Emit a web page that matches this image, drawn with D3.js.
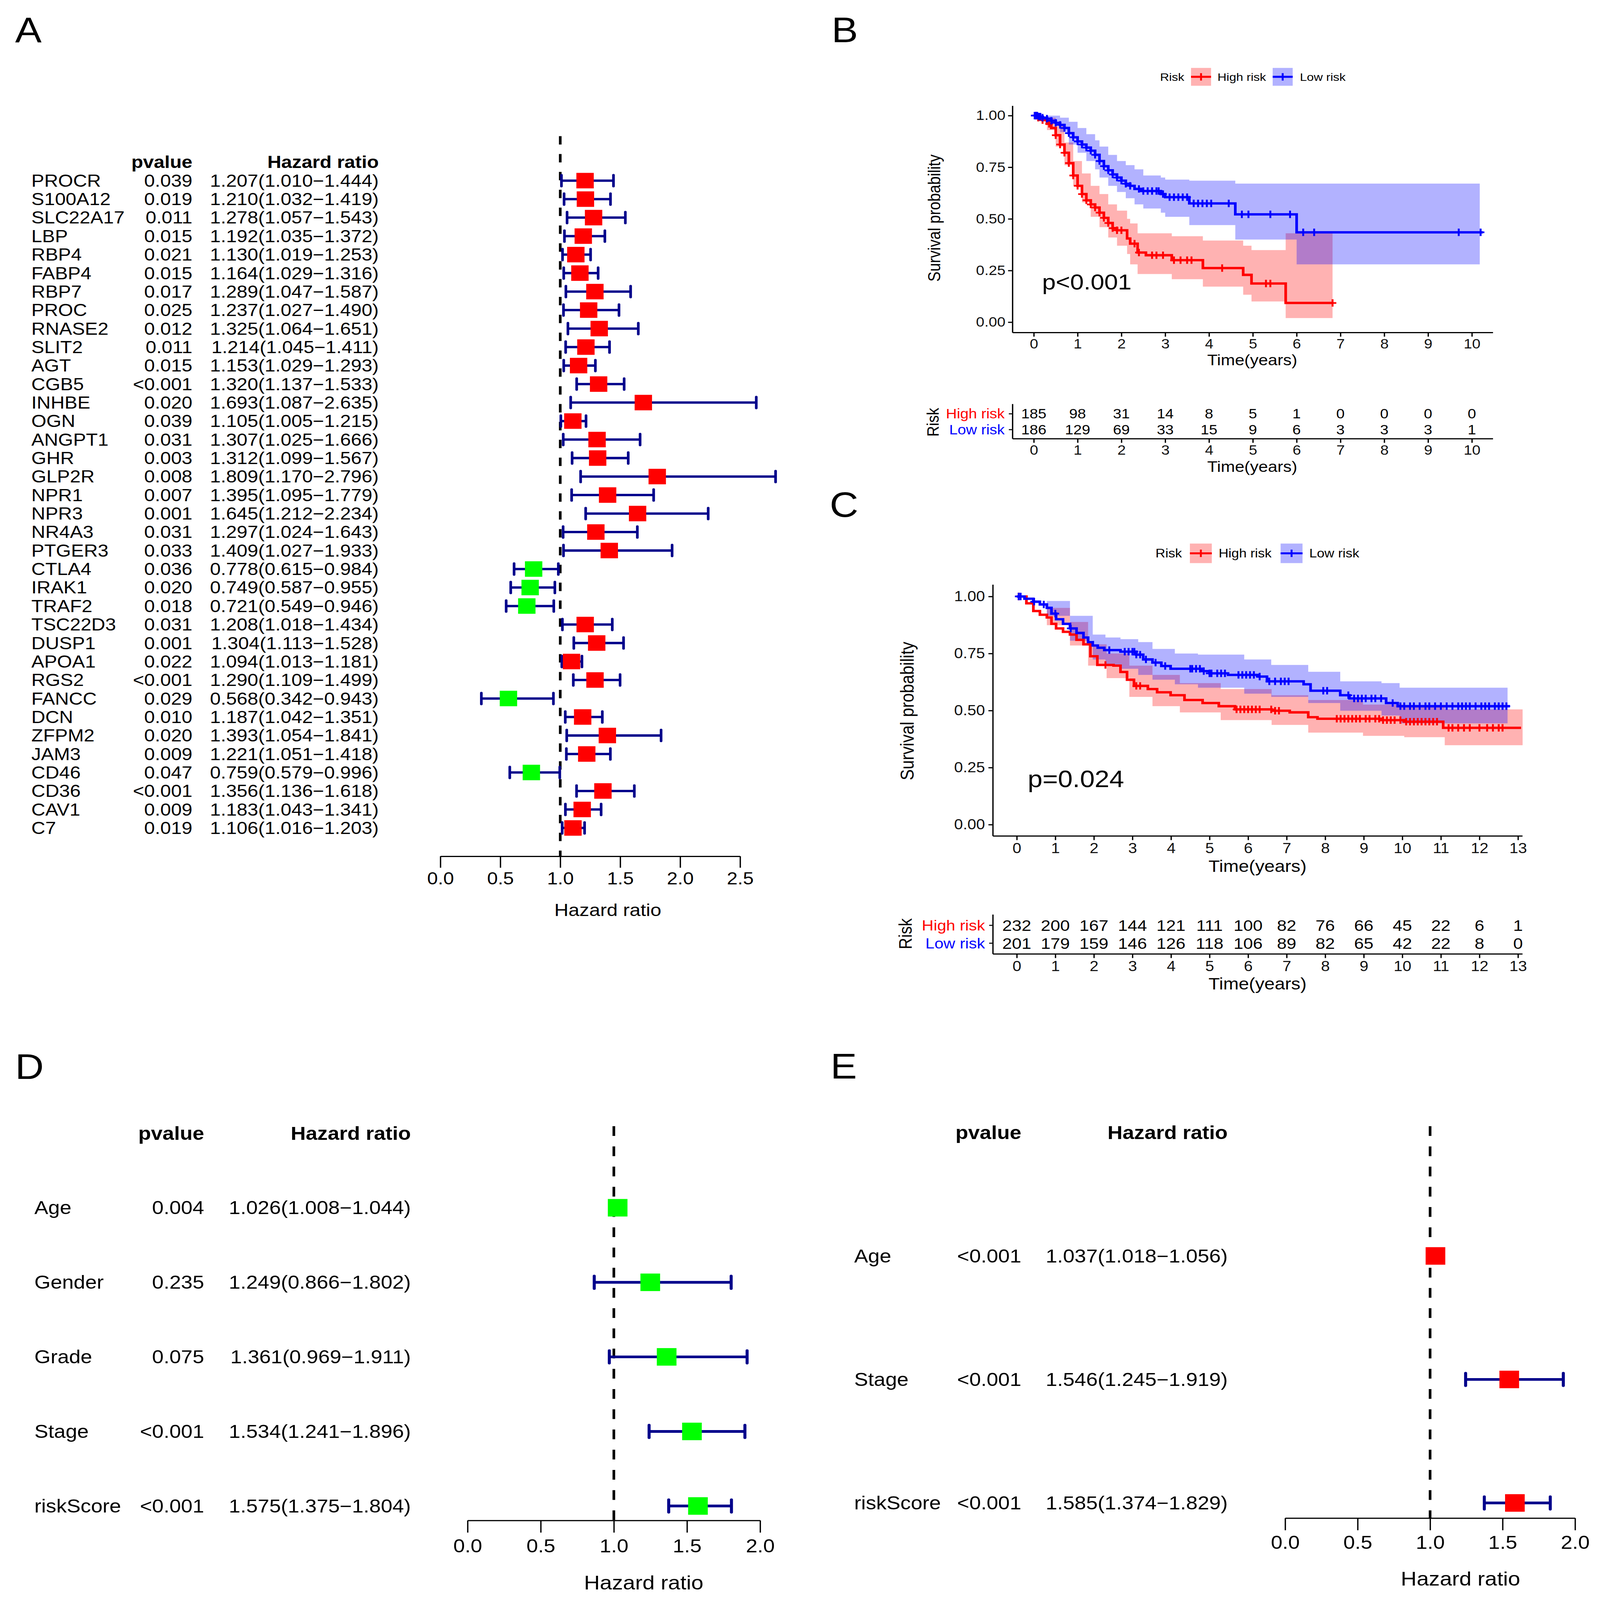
<!DOCTYPE html>
<html>
<head>
<meta charset="utf-8">
<script src="https://cdn.jsdelivr.net/npm/d3@7"></script>
<style>
html, body { margin: 0; padding: 0; width: 100%; height: 100%; overflow: hidden; background: #fff; }
#chart svg { display: block; }
text { font-family: "Liberation Sans", Arial, Helvetica, sans-serif; }
</style>
</head>
<body>
<div id="chart"></div>
<script>
// ---------- panel A : univariate cox of genes ----------
var geneNames = ["PROCR","S100A12","SLC22A17","LBP","RBP4","FABP4","RBP7","PROC","RNASE2","SLIT2",
  "AGT","CGB5","INHBE","OGN","ANGPT1","GHR","GLP2R","NPR1","NPR3","NR4A3",
  "PTGER3","CTLA4","IRAK1","TRAF2","TSC22D3","DUSP1","APOA1","RGS2","FANCC","DCN",
  "ZFPM2","JAM3","CD46","CD36","CAV1","C7"];
var genePvalues = ["0.039","0.019","0.011","0.015","0.021","0.015","0.017","0.025","0.012","0.011",
  "0.015","<0.001","0.020","0.039","0.031","0.003","0.008","0.007","0.001","0.031",
  "0.033","0.036","0.020","0.018","0.031","0.001","0.022","<0.001","0.029","0.010",
  "0.020","0.009","0.047","<0.001","0.009","0.019"];
var geneHR = [1.207,1.210,1.278,1.192,1.130,1.164,1.289,1.237,1.325,1.214,
  1.153,1.320,1.693,1.105,1.307,1.312,1.809,1.395,1.645,1.297,
  1.409,0.778,0.749,0.721,1.208,1.304,1.094,1.290,0.568,1.187,
  1.393,1.221,0.759,1.356,1.183,1.106];
var geneLow = [1.010,1.032,1.057,1.035,1.019,1.029,1.047,1.027,1.064,1.045,
  1.029,1.137,1.087,1.005,1.025,1.099,1.170,1.095,1.212,1.024,
  1.027,0.615,0.587,0.549,1.018,1.113,1.013,1.109,0.342,1.042,
  1.054,1.051,0.579,1.136,1.043,1.016];
var geneHigh = [1.444,1.419,1.543,1.372,1.253,1.316,1.587,1.490,1.651,1.411,
  1.293,1.533,2.635,1.215,1.666,1.567,2.796,1.779,2.234,1.643,
  1.933,0.984,0.955,0.946,1.434,1.528,1.181,1.499,0.943,1.351,
  1.841,1.418,0.996,1.618,1.341,1.203];
var hrTicksA = [0, 0.5, 1, 1.5, 2, 2.5];

// ---------- panel D : univariate clinical ----------
var clinNamesD = ["Age","Gender","Grade","Stage","riskScore"];
var clinPD = ["0.004","0.235","0.075","<0.001","<0.001"];
var clinHRD = [1.026,1.249,1.361,1.534,1.575];
var clinLowD = [1.008,0.866,0.969,1.241,1.375];
var clinHighD = [1.044,1.802,1.911,1.896,1.804];

// ---------- panel E : multivariate clinical ----------
var clinNamesE = ["Age","Stage","riskScore"];
var clinPE = ["<0.001","<0.001","<0.001"];
var clinHRE = [1.037,1.546,1.585];
var clinLowE = [1.018,1.245,1.374];
var clinHighE = [1.056,1.919,1.829];
var hrTicksDE = [0, 0.5, 1, 1.5, 2];

// ---------- panel B : KM training set ----------
var timeTicksB = [0,1,2,3,4,5,6,7,8,9,10];
var riskHighB = [185,98,31,14,8,5,1,0,0,0,0];
var riskLowB = [186,129,69,33,15,9,6,3,3,3,1];
// [time, survival]
var highStepsB = [[0,1],[0.1,0.99],[0.2,0.978],[0.3,0.96],[0.4,0.94],[0.5,0.905],[0.6,0.86],[0.7,0.82],
  [0.8,0.77],[0.9,0.71],[1.0,0.66],[1.1,0.62],[1.2,0.59],[1.3,0.57],[1.4,0.555],[1.5,0.53],[1.6,0.505],
  [1.7,0.48],[1.8,0.455],[1.9,0.445],[2.13,0.405],[2.2,0.38],[2.37,0.337],[2.56,0.324],[3.15,0.30],
  [3.86,0.262],[4.78,0.229],[4.97,0.187],[5.75,0.093],[6.82,0.093]];
var lowStepsB = [[0,1],[0.1,0.995],[0.2,0.99],[0.3,0.985],[0.4,0.975],[0.5,0.965],[0.6,0.955],[0.7,0.94],
  [0.8,0.915],[0.9,0.895],[1.0,0.875],[1.1,0.86],[1.2,0.845],[1.3,0.83],[1.4,0.81],[1.5,0.78],[1.6,0.755],
  [1.7,0.735],[1.8,0.715],[1.9,0.70],[2.0,0.685],[2.1,0.67],[2.2,0.66],[2.3,0.645],[2.45,0.635],[2.9,0.62],
  [3.0,0.605],[3.55,0.575],[4.6,0.522],[6.0,0.435],[10.25,0.435]];
// [time, lower, upper]
var highBandB = [[0,1,1],[0.3,0.93,0.99],[0.5,0.85,0.95],[0.7,0.76,0.87],[0.9,0.66,0.78],[1.1,0.58,0.72],
  [1.3,0.51,0.66],[1.5,0.46,0.62],[1.7,0.41,0.57],[1.9,0.37,0.54],[2.13,0.33,0.50],[2.2,0.28,0.478],
  [2.37,0.233,0.43],[3.15,0.208,0.416],[3.86,0.172,0.395],[4.78,0.133,0.37],[4.97,0.10,0.349],
  [5.75,0.02,0.43],[6.82,0.02,0.43]];
var lowBandB = [[0,1,1],[0.3,0.97,1],[0.6,0.92,0.99],[0.8,0.86,0.97],[1.0,0.82,0.94],[1.2,0.78,0.91],
  [1.4,0.74,0.88],[1.5,0.70,0.85],[1.7,0.66,0.81],[1.9,0.63,0.78],[2.1,0.60,0.76],[2.3,0.57,0.74],
  [2.5,0.55,0.71],[2.9,0.53,0.70],[3.0,0.51,0.69],[3.55,0.47,0.685],[4.6,0.40,0.671],[6.0,0.28,0.671],
  [10.18,0.28,0.671]];
var highCensorB = [0.05,0.1,0.2,0.35,0.5,0.6,0.7,0.8,0.9,1.0,1.1,1.2,1.3,1.4,1.5,1.6,1.7,1.8,1.9,2.0,
  2.3,2.4,2.7,2.8,2.95,3.2,3.35,3.5,3.6,4.3,5.3,5.4,6.82];
var lowCensorB = [0.02,0.05,0.08,0.12,0.15,0.2,0.3,0.4,0.5,0.6,0.7,0.8,0.9,1.0,1.1,1.2,1.3,1.4,1.5,1.6,
  1.7,1.8,1.9,2.0,2.1,2.2,2.4,2.5,2.6,2.7,2.8,2.85,2.95,3.1,3.2,3.3,3.4,3.5,3.65,3.75,3.85,3.95,4.05,
  4.45,4.75,4.9,5.4,5.85,6.15,6.4,9.7,10.2];

// ---------- panel C : KM validation set ----------
var timeTicksC = [0,1,2,3,4,5,6,7,8,9,10,11,12,13];
var riskHighC = [232,200,167,144,121,111,100,82,76,66,45,22,6,1];
var riskLowC = [201,179,159,146,126,118,106,89,82,65,42,22,8,0];
var highStepsC = [[0,1],[0.25,0.97],[0.43,0.936],[0.6,0.92],[0.78,0.908],[0.9,0.88],[1.02,0.86],[1.2,0.845],
  [1.38,0.833],[1.55,0.81],[1.73,0.79],[1.91,0.738],[2.09,0.70],[2.51,0.697],[2.69,0.669],[2.86,0.635],
  [3.04,0.608],[3.4,0.594],[3.64,0.58],[3.99,0.567],[4.35,0.546],[4.82,0.533],[5.24,0.519],[5.66,0.505],
  [6.61,0.499],[7.08,0.492],[7.56,0.471],[7.8,0.464],[9.46,0.458],[10.05,0.451],[11.06,0.424],[13.08,0.424]];
var lowStepsC = [[0,1],[0.2,0.99],[0.43,0.977],[0.6,0.965],[0.78,0.95],[0.9,0.925],[1.02,0.90],[1.2,0.88],
  [1.38,0.86],[1.55,0.84],[1.73,0.82],[1.85,0.80],[1.97,0.785],[2.1,0.775],[2.27,0.765],[2.69,0.758],
  [3.1,0.745],[3.28,0.724],[3.52,0.71],[3.75,0.695],[3.99,0.683],[4.8,0.673],[5.0,0.663],[5.48,0.656],
  [6.25,0.649],[6.49,0.628],[7.44,0.615],[7.62,0.587],[8.39,0.567],[8.63,0.553],[9.58,0.533],[9.88,0.519],
  [12.79,0.519]];
var highBandC = [[0,1,1],[0.78,0.874,0.95],[1.38,0.785,0.888],[1.85,0.697,0.79],[2.33,0.642,0.75],
  [2.92,0.56,0.697],[3.52,0.519,0.656],[4.23,0.492,0.62],[5.29,0.458,0.594],[6.61,0.437,0.567],
  [7.56,0.403,0.546],[8.98,0.389,0.526],[10.05,0.383,0.519],[11.1,0.348,0.505],[13.12,0.348,0.505]];
var lowBandC = [[0,1,1],[0.78,0.915,0.98],[1.38,0.806,0.915],[1.97,0.724,0.833],[2.3,0.70,0.82],
  [2.69,0.683,0.813],[3.15,0.656,0.80],[3.52,0.635,0.77],[4.1,0.615,0.75],[4.7,0.60,0.745],
  [5.9,0.574,0.724],[6.6,0.56,0.70],[7.56,0.533,0.67],[8.39,0.499,0.628],[9.46,0.478,0.62],
  [9.93,0.444,0.60],[12.73,0.444,0.60]];
var highCensorC = [0.05,2.3,3.1,3.2,5.7,5.8,5.9,6.0,6.1,6.2,6.3,6.6,6.7,6.8,8.3,8.4,8.5,8.6,8.7,8.8,8.9,
  9.05,9.15,9.3,9.4,9.5,9.6,9.7,9.8,9.95,10.1,10.2,10.3,10.4,10.5,10.6,10.7,10.8,10.9,11.2,11.3,11.45,
  11.6,11.75,12.0,12.2,12.35,12.5,12.6];
var lowCensorC = [0.05,0.1,0.45,0.7,1.0,1.4,2.4,2.8,2.9,3.0,3.05,3.1,3.2,3.35,3.6,3.85,4.5,4.55,4.65,4.75,
  4.85,5.0,5.05,5.2,5.3,5.4,5.75,5.85,5.95,6.05,6.15,6.3,6.55,6.7,6.85,6.95,7.05,7.95,8.05,8.6,8.75,8.85,
  8.95,9.05,9.2,9.3,9.45,9.75,9.95,10.05,10.2,10.3,10.45,10.6,10.7,10.85,11.0,11.15,11.3,11.45,11.55,
  11.65,11.75,11.9,12.05,12.15,12.25,12.4,12.5,12.6,12.7];

var RED = "#FF0000", BLUE = "#0000FF", GREEN = "#00FF00", NAVY = "#00008B";

// whole figure in 4233 x 4748 units, fitted to the window
var svg = d3.select("#chart").append("svg")
  .attr("viewBox", "0 0 4233 4748")
  .attr("preserveAspectRatio", "none")
  .style("width", "100vw").style("height", "100vh");
svg.append("rect").attr("width", 4233).attr("height", 4748).attr("fill", "#fff");

// panel letters
[["A",40,125],["B",2200,125],["C",2195,1534],["D",40,3202],["E",2197,3200]].forEach(function(l){
  svg.append("text").attr("x", l[1]).attr("y", l[2]).attr("font-size", 105).text(l[0]);
});

function forest(p) {
  var g = svg.append("g");
  var x = d3.scaleLinear().domain([0, p.ticks[p.ticks.length - 1]]).range(p.xRange);
  var y = d3.scalePoint().domain(p.names).range(p.yRange);

  g.append("text").attr("x", p.pX).attr("y", p.headY).attr("text-anchor", "end")
    .attr("font-size", p.fs).attr("font-weight", "bold").text("pvalue");
  g.append("text").attr("x", p.hrX).attr("y", p.headY).attr("text-anchor", "end")
    .attr("font-size", p.fs).attr("font-weight", "bold").text("Hazard ratio");

  p.names.forEach(function(n, i) {
    var yy = y(n);
    g.append("text").attr("x", p.nameX).attr("y", yy).attr("dy", "0.35em").attr("font-size", p.fs).text(n);
    g.append("text").attr("x", p.pX).attr("y", yy).attr("dy", "0.35em").attr("text-anchor", "end")
      .attr("font-size", p.fs).text(p.pv[i]);
    g.append("text").attr("x", p.hrX).attr("y", yy).attr("dy", "0.35em").attr("text-anchor", "end")
      .attr("font-size", p.fs)
      .text(p.hr[i].toFixed(3) + "(" + p.lo[i].toFixed(3) + "\u2212" + p.hi[i].toFixed(3) + ")");
  });

  // reference line at HR = 1
  g.append("line").attr("x1", x(1)).attr("x2", x(1)).attr("y1", p.dashTop).attr("y2", p.axisY)
    .attr("stroke", "#000").attr("stroke-width", 7).attr("stroke-dasharray", p.dash);

  p.names.forEach(function(n, i) {
    var yy = y(n), half = (p.cap - p.ciW) / 2;
    g.append("line").attr("x1", x(p.lo[i])).attr("x2", x(p.hi[i])).attr("y1", yy).attr("y2", yy)
      .attr("stroke", NAVY).attr("stroke-width", p.ciW);
    [p.lo[i], p.hi[i]].forEach(function(v) {
      g.append("line").attr("x1", x(v)).attr("x2", x(v)).attr("y1", yy - half).attr("y2", yy + half)
        .attr("stroke", NAVY).attr("stroke-width", p.ciW).attr("stroke-linecap", "round");
    });
    g.append("rect").attr("x", x(p.hr[i]) - p.box / 2).attr("y", yy - p.box / 2)
      .attr("width", p.box).attr("height", p.box).attr("fill", p.color(p.hr[i]));
  });

  var ax = g.append("g").attr("transform", "translate(0," + p.axisY + ")")
    .call(d3.axisBottom(x).tickValues(p.ticks).tickFormat(d3.format(".1f"))
      .tickSize(p.tickLen).tickSizeOuter(0).tickPadding(p.tickPad));
  ax.selectAll("path,line").attr("stroke", "#000").attr("stroke-width", 3.5);
  ax.selectAll("text").attr("font-size", p.fs).attr("fill", "#000")
    .style("font-family", "'Liberation Sans', Arial, sans-serif");
  g.append("text").attr("x", p.titleX).attr("y", p.titleY).attr("dy", "0.35em").attr("text-anchor", "middle")
    .attr("font-size", p.titleFs).text("Hazard ratio");
}

forest({
  names: geneNames, pv: genePvalues, hr: geneHR, lo: geneLow, hi: geneHigh, ticks: hrTicksA,
  xRange: [1165, 1958], yRange: [536, 2457], fs: 51, headY: 499,
  nameX: 83, pX: 509, hrX: 1002, dashTop: 404, axisY: 2541, dash: "25,28",
  box: 46, cap: 40, ciW: 7, tickLen: 34, tickPad: 13, titleX: 1608, titleY: 2700, titleFs: 52,
  color: function(v) { return v > 1 ? RED : GREEN; }
});
forest({
  names: clinNamesD, pv: clinPD, hr: clinHRD, lo: clinLowD, hi: clinHighD, ticks: hrTicksDE,
  xRange: [1237, 2011], yRange: [3584, 4469], fs: 55, headY: 3383,
  nameX: 91, pX: 540, hrX: 1087, dashTop: 3342, axisY: 4512, dash: "29,31",
  box: 52, cap: 45, ciW: 8, tickLen: 36, tickPad: 20, titleX: 1703, titleY: 4696, titleFs: 58,
  color: function() { return GREEN; }
});
forest({
  names: clinNamesE, pv: clinPE, hr: clinHRE, lo: clinLowE, hi: clinHighE, ticks: hrTicksDE,
  xRange: [3400, 4167], yRange: [3727, 4460], fs: 55, headY: 3380,
  nameX: 2260, pX: 2702, hrX: 3248, dashTop: 3342, axisY: 4505, dash: "29,31",
  box: 52, cap: 45, ciW: 8, tickLen: 36, tickPad: 16, titleX: 3864, titleY: 4685, titleFs: 58,
  color: function() { return RED; }
});

function survAt(steps, t) {
  var s = steps[0][1];
  steps.forEach(function(d) { if (d[0] <= t) s = d[1]; });
  return s;
}

function km(p) {
  var g = svg.append("g");
  var x = d3.scaleLinear().domain([0, p.ticks[p.ticks.length - 1]]).range(p.xRange);
  var y = d3.scaleLinear().domain([0, 1]).range(p.yRange);

  p.groups.forEach(function(gr) {
    g.append("path")
      .attr("d", d3.area().curve(d3.curveStepAfter)
        .x(function(d) { return x(d[0]); })
        .y0(function(d) { return y(d[1]); })
        .y1(function(d) { return y(d[2]); })(gr.band))
      .attr("fill", gr.color).attr("fill-opacity", 0.3);
  });
  p.groups.forEach(function(gr) {
    g.append("path")
      .attr("d", d3.line().curve(d3.curveStepAfter)
        .x(function(d) { return x(d[0]); })
        .y(function(d) { return y(d[1]); })(gr.steps))
      .attr("fill", "none").attr("stroke", gr.color).attr("stroke-width", 7);
    g.selectAll(null).data(gr.censor).enter().append("path")
      .attr("transform", function(t) { return "translate(" + x(t) + "," + y(survAt(gr.steps, t)) + ")"; })
      .attr("d", "M-10,0H10M0,-11V11").attr("stroke", gr.color).attr("stroke-width", 5);
  });

  // axes
  var ya = g.append("g").attr("transform", "translate(" + p.axX + ",0)")
    .call(d3.axisLeft(y).tickValues([0, 0.25, 0.5, 0.75, 1]).tickFormat(d3.format(".2f"))
      .tickSize(12).tickPadding(p.yPad));
  var xa = g.append("g").attr("transform", "translate(0," + p.axY + ")")
    .call(d3.axisBottom(x).tickValues(p.ticks).tickFormat(d3.format("d")).tickSize(12).tickPadding(p.xPad));
  [ya, xa].forEach(function(a) {
    a.select(".domain").remove();
    a.selectAll("line").attr("stroke", "#000").attr("stroke-width", 3.5);
    a.selectAll("text").attr("font-size", p.tickFs).attr("fill", "#111")
      .style("font-family", "'Liberation Sans', Arial, sans-serif");
  });
  g.append("line").attr("x1", p.axX).attr("x2", p.axX).attr("y1", p.axTop).attr("y2", p.axY)
    .attr("stroke", "#000").attr("stroke-width", 3.5);
  g.append("line").attr("x1", p.axX).attr("x2", p.axRight).attr("y1", p.axY).attr("y2", p.axY)
    .attr("stroke", "#000").attr("stroke-width", 3.5);

  g.append("text").attr("x", p.titleX).attr("y", p.titleY).attr("dy", "0.35em").attr("text-anchor", "middle")
    .attr("font-size", p.titleFs).text("Time(years)");
  g.append("text").attr("transform", "translate(" + p.ylabX + "," + p.ylabY + ") rotate(-90)")
    .attr("dy", "0.35em").attr("text-anchor", "middle").attr("font-size", p.titleFs).text("Survival probability");
  g.append("text").attr("x", p.pvX).attr("y", p.pvY).attr("font-size", p.pvFs).text(p.pvText);

  // legend
  var L = p.legend;
  g.append("text").attr("x", L.riskX).attr("y", L.y).attr("dy", "0.35em").attr("font-size", L.fs).text("Risk");
  p.groups.forEach(function(gr, i) {
    var kx = L.keyX[i];
    g.append("rect").attr("x", kx).attr("y", L.y - L.ks / 2).attr("width", L.ks).attr("height", L.ks)
      .attr("fill", gr.color).attr("fill-opacity", 0.3);
    g.append("line").attr("x1", kx).attr("x2", kx + L.ks).attr("y1", L.y).attr("y2", L.y)
      .attr("stroke", gr.color).attr("stroke-width", 6);
    g.append("path").attr("transform", "translate(" + (kx + L.ks / 2) + "," + L.y + ")")
      .attr("d", "M-10,0H10M0,-11V11").attr("stroke", gr.color).attr("stroke-width", 5);
    g.append("text").attr("x", L.textX[i]).attr("y", L.y).attr("dy", "0.35em").attr("font-size", L.fs).text(gr.name);
  });

  // risk table
  var T = p.table;
  var ty = d3.scalePoint().domain(p.groups.map(function(gr) { return gr.name; })).range(T.rows);
  p.groups.forEach(function(gr) {
    g.selectAll(null).data(gr.atRisk).enter().append("text")
      .attr("x", function(d, i) { return x(p.ticks[i]); }).attr("y", ty(gr.name)).attr("dy", "0.35em")
      .attr("text-anchor", "middle").attr("font-size", T.fs).text(function(d) { return d; });
    g.append("text").attr("x", T.labelX).attr("y", ty(gr.name)).attr("dy", "0.35em").attr("text-anchor", "end")
      .attr("font-size", T.labFs).attr("fill", gr.color).text(gr.name);
    g.append("line").attr("x1", p.axX - 10).attr("x2", p.axX).attr("y1", ty(gr.name)).attr("y2", ty(gr.name))
      .attr("stroke", "#000").attr("stroke-width", 3);
  });
  g.append("line").attr("x1", p.axX).attr("x2", p.axX).attr("y1", T.top).attr("y2", T.axY)
    .attr("stroke", "#000").attr("stroke-width", 3.5);
  var ta = g.append("g").attr("transform", "translate(0," + T.axY + ")")
    .call(d3.axisBottom(x).tickValues(p.ticks).tickFormat(d3.format("d")).tickSize(12).tickPadding(p.xPad));
  ta.select(".domain").remove();
  ta.selectAll("line").attr("stroke", "#000").attr("stroke-width", 3.5);
  ta.selectAll("text").attr("font-size", p.tickFs).attr("fill", "#111")
    .style("font-family", "'Liberation Sans', Arial, sans-serif");
  g.append("line").attr("x1", p.axX).attr("x2", p.axRight).attr("y1", T.axY).attr("y2", T.axY)
    .attr("stroke", "#000").attr("stroke-width", 3.5);
  g.append("text").attr("x", p.titleX).attr("y", T.titleY).attr("dy", "0.35em").attr("text-anchor", "middle")
    .attr("font-size", p.titleFs).text("Time(years)");
  g.append("text").attr("transform", "translate(" + T.riskX + "," + T.riskY + ") rotate(-90)")
    .attr("dy", "0.35em").attr("text-anchor", "middle").attr("font-size", T.riskFs).text("Risk");
}

km({
  ticks: timeTicksB, xRange: [2735, 3894], yRange: [956, 343],
  axX: 2679, axY: 987, axTop: 314, axRight: 3950, yPad: 7, xPad: 7, tickFs: 40,
  titleX: 3313, titleY: 1068, titleFs: 45, ylabX: 2472, ylabY: 647,
  pvX: 2757, pvY: 859, pvFs: 65, pvText: "p<0.001",
  groups: [
    { name: "High risk", color: RED, steps: highStepsB, band: highBandB, censor: highCensorB, atRisk: riskHighB },
    { name: "Low risk", color: BLUE, steps: lowStepsB, band: lowBandB, censor: lowCensorB, atRisk: riskLowB }
  ],
  legend: { y: 228, fs: 33, ks: 53, riskX: 3069, keyX: [3151, 3367], textX: [3221, 3439] },
  table: { rows: [1228, 1275], axY: 1302, top: 1199, labelX: 2658, fs: 40, labFs: 40,
    titleY: 1385, riskX: 2468, riskY: 1253, riskFs: 44 }
});

km({
  ticks: timeTicksC, xRange: [2690, 4016], yRange: [2447, 1770],
  axX: 2627, axY: 2481, axTop: 1735, axRight: 4028, yPad: 9, xPad: 9, tickFs: 42,
  titleX: 3327, titleY: 2570, titleFs: 49, ylabX: 2400, ylabY: 2110,
  pvX: 2719, pvY: 2336, pvFs: 70, pvText: "p=0.024",
  groups: [
    { name: "High risk", color: RED, steps: highStepsC, band: highBandC, censor: highCensorC, atRisk: riskHighC },
    { name: "Low risk", color: BLUE, steps: lowStepsC, band: lowBandC, censor: lowCensorC, atRisk: riskLowC }
  ],
  legend: { y: 1642, fs: 36, ks: 58, riskX: 3057, keyX: [3148, 3388], textX: [3224, 3464] },
  table: { rows: [2746, 2799], axY: 2831, top: 2714, labelX: 2606, fs: 46, labFs: 43,
    titleY: 2919, riskX: 2396, riskY: 2771, riskFs: 47 }
});
</script>
</body>
</html>
